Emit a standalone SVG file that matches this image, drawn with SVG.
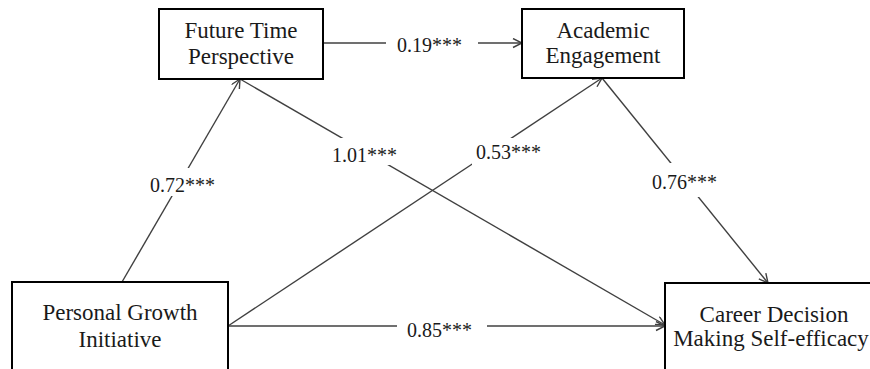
<svg xmlns="http://www.w3.org/2000/svg" width="870" height="369" viewBox="0 0 870 369">
<defs>
<style>
.box{fill:#fff;stroke:#000;stroke-width:2}
.nt{font-family:"Liberation Serif","Times New Roman",serif;font-size:23px;fill:#1a1a1a;text-anchor:middle}
.lt{font-family:"Liberation Serif","Times New Roman",serif;font-size:20px;fill:#1a1a1a}
.ln{stroke:#404040;stroke-width:1.4;fill:none;marker-end:url(#arr)}
.bg{fill:#fff}
</style>
<marker id="arr" markerUnits="userSpaceOnUse" markerWidth="12" markerHeight="12" refX="10" refY="5" orient="auto">
<path d="M1,0.5 L10,5 L1,9.5" fill="none" stroke="#404040" stroke-width="1.4"/>
</marker>
</defs>
<rect width="870" height="369" fill="#fff"/>
<g id="connectors">
<line class="ln" x1="323" y1="43" x2="522" y2="43"/>
<line class="ln" x1="122" y1="282" x2="240" y2="79"/>
<line class="ln" x1="240" y1="79" x2="665" y2="325"/>
<line class="ln" x1="228" y1="326" x2="602" y2="78"/>
<line class="ln" x1="602" y1="78" x2="768" y2="283"/>
<line class="ln" x1="228" y1="326" x2="665" y2="326"/>
<rect class="bg" x="386" y="34" width="92" height="20"/>
<text class="lt" x="397" y="51.5">0.19***</text>
<rect class="bg" x="148" y="168" width="71" height="28"/>
<text class="lt" x="150" y="192">0.72***</text>
<rect class="bg" x="330" y="138" width="68" height="27"/>
<text class="lt" x="332" y="162">1.01***</text>
<rect class="bg" x="472" y="138" width="70" height="28"/>
<text class="lt" x="476" y="159">0.53***</text>
<rect class="bg" x="650" y="163" width="68" height="34"/>
<text class="lt" x="652" y="189">0.76***</text>
<rect class="bg" x="397" y="316" width="90" height="24"/>
<text class="lt" x="407" y="337">0.85***</text>
</g>
<g id="ftp">
<rect class="box" x="159" y="9" width="164" height="70"/>
<text class="nt" x="241" y="38">Future Time</text>
<text class="nt" x="241" y="64">Perspective</text>
</g>
<g id="ae">
<rect class="box" x="522" y="9" width="162" height="69"/>
<text class="nt" x="603" y="38">Academic</text>
<text class="nt" x="603" y="63">Engagement</text>
</g>
<g id="pgi">
<rect class="box" x="12" y="282" width="216" height="100"/>
<text class="nt" x="120" y="320">Personal Growth</text>
<text class="nt" x="120" y="347">Initiative</text>
</g>
<g id="cdms">
<rect class="box" x="665" y="283" width="230" height="100"/>
<text class="nt" x="774" y="322">Career Decision</text>
<text class="nt" x="771" y="346">Making Self-efficacy</text>
</g>
</svg>
